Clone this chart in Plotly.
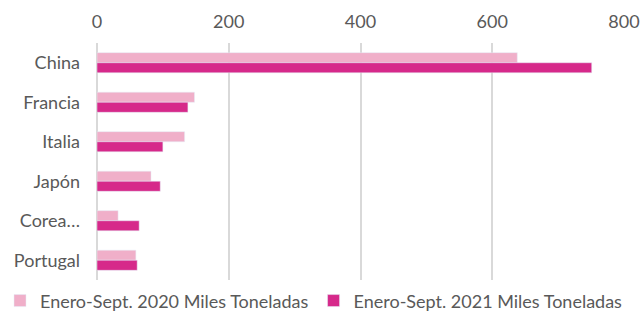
import plotly.graph_objects as go

categories = ["China", "Francia", "Italia", "Japón", "Corea…", "Portugal"]
values_2020 = [638, 148, 133, 82, 32, 59]
values_2021 = [751, 138, 100, 96, 64, 61]
series_names = ["Enero-Sept. 2020 Miles Toneladas", "Enero-Sept. 2021 Miles Toneladas"]
x_ticks = [0, 200, 400, 600, 800]

fig = go.Figure()
fig.add_trace(go.Bar(y=categories, x=values_2020, orientation="h", name=series_names[0],
                     marker=dict(color="#F0AFC9")))
fig.add_trace(go.Bar(y=categories, x=values_2021, orientation="h", name=series_names[1],
                     marker=dict(color="#D6298A")))

font_family = "Lato, 'Open Sans', sans-serif"
plot_w = 643 - 97 - 19
fig.update_layout(
    width=643, height=312,
    margin=dict(l=97, r=19, t=43, b=32, autoexpand=False),
    barmode="group", bargap=0.49, bargroupgap=0,
    plot_bgcolor="white", paper_bgcolor="white",
    font=dict(family=font_family, size=18, color="#595959"),
    showlegend=True,
    legend=dict(orientation="h", x=-97 / plot_w, xanchor="left", y=-0.01, yanchor="top",
                font=dict(size=18, color="#595959"), itemwidth=30,
                traceorder="normal", bgcolor="rgba(0,0,0,0)"),
    xaxis=dict(side="top", range=[0, 800], tickvals=x_ticks, showgrid=True,
               gridcolor="#D9D9D9", gridwidth=2, zeroline=True, zerolinecolor="#D9D9D9",
               zerolinewidth=2, showline=False, ticks="", ticklabelstandoff=10,
               automargin=False, tickfont=dict(size=18, color="#595959")),
    yaxis=dict(autorange="reversed", showgrid=False, showline=False, ticks="",
               automargin=False, ticklabelstandoff=16, tickfont=dict(size=18, color="#595959")),
)

fig.write_html("out.html", config={"displayModeBar": False},
               post_script="document.body.style.margin='0';")
